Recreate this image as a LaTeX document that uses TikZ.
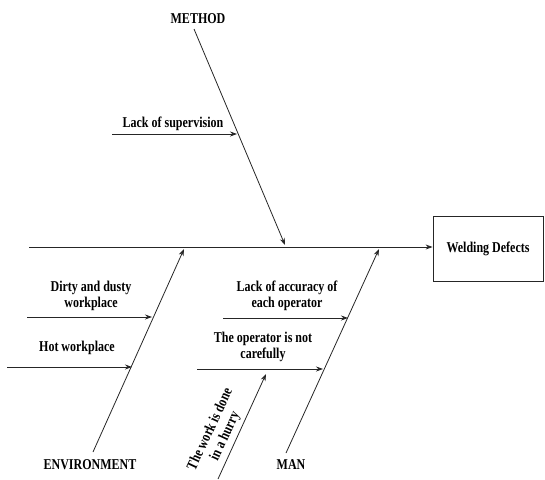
\documentclass[tikz,border=0pt]{standalone}
\usepackage{fontspec}
\setmainfont{Liberation Serif}[FakeStretch=0.8]
\usetikzlibrary{arrows.meta}
\begin{document}
\begin{tikzpicture}[x=1pt,y=-1pt,
  bone/.style={line width=0.8pt,draw=black!85,-{Stealth[length=7pt,width=5pt]}},
  lbl/.style={font=\bfseries\fontsize{15}{16.5}\selectfont,align=center,inner sep=0pt},
  effect/.style={draw=black!85,line width=0.8pt,minimum width=110pt,minimum height=65pt,inner sep=0pt,font=\bfseries\fontsize{15}{16.5}\selectfont}]
\useasboundingbox (0,0) rectangle (545,479);
% effect box
\node[effect] (box) at (488,248.5) {Welding Defects};
% spine
\coordinate (sp0) at (29,247);
\coordinate (sp1) at (box.west |- sp0);
\draw[bone] (sp0) -- (sp1);
% method
\coordinate (m0) at (194,29);
\coordinate (m1) at (285,245);
\draw[bone] (m0) -- (m1);
\node[lbl] (method) at (198,19) {METHOD};
\coordinate (ls0) at (112,134);
\coordinate (ls1) at (237,134);
\draw[bone] (ls0) -- (ls1);
\node[lbl] (lsT) at (173,124) {Lack of supervision};
% environment
\coordinate (e0) at (93,452);
\coordinate (e1) at (184,249);
\draw[bone] (e0) -- (e1);
\node[lbl] (env) at (90,465) {ENVIRONMENT};
\coordinate (d0) at (27,317);
\coordinate (d1) at (152,317);
\draw[bone] (d0) -- (d1);
\node[lbl] (dT) at (91,296) {Dirty and dusty\\workplace};
\coordinate (h0) at (7,367);
\coordinate (h1) at (132,367);
\draw[bone] (h0) -- (h1);
\node[lbl] (hT) at (77,348) {Hot workplace};
% man
\coordinate (n0) at (286,453);
\coordinate (n1) at (379,249);
\draw[bone] (n0) -- (n1);
\node[lbl] (man) at (291,465) {MAN};
\coordinate (a0) at (223,318);
\coordinate (a1) at (348,318);
\draw[bone] (a0) -- (a1);
\node[lbl] (aT) at (287,296) {Lack of accuracy of\\each operator};
\coordinate (o0) at (197,369);
\coordinate (o1) at (323,369);
\draw[bone] (o0) -- (o1);
\node[lbl] (oT) at (263,347) {The operator is not\\carefully};
\coordinate (w0) at (218,479);
\coordinate (w1) at (266,374);
\draw[bone] (w0) -- (w1);
\node[lbl,rotate=65] (wT) at (218,433) {The work is done\\in a hurry};
\end{tikzpicture}
\end{document}
